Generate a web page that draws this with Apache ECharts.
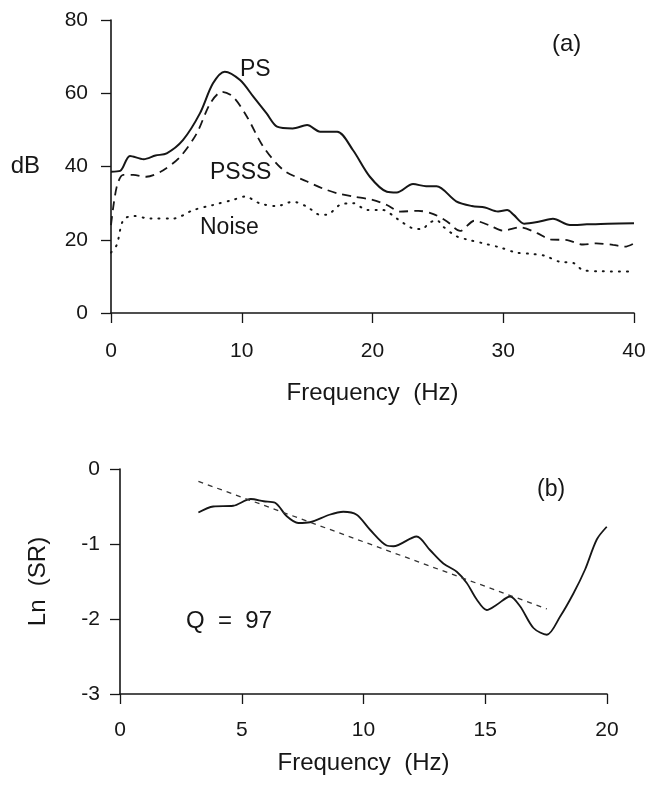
<!DOCTYPE html>
<html>
<head>
<meta charset="utf-8">
<script src="https://cdn.jsdelivr.net/npm/echarts@6/dist/echarts.min.js"></script>
<style>
html,body{margin:0;padding:0;background:#fff;}
#chart{width:651px;height:787px;}
</style>
</head>
<body>
<div id="chart"></div>
<script>
// ---- Panel (a): power spectra (Frequency Hz, dB) ----
var psFreq   = [0, 0.7, 1.45, 2.5, 3.4, 4.26, 5.5, 6.8, 7.8, 8.7, 9.87, 10.9, 11.9, 12.7, 13.9, 15.0, 16.0, 17.3, 18.5, 19.8, 21.1, 21.85, 23.1, 24.1, 24.9, 26.4, 27.6, 28.6, 29.6, 30.3, 30.8, 31.6, 32.7, 33.8, 35.1, 36.4, 38.0, 40];
var psDb     = [38.6, 38.8, 42.9, 42.0, 43.0, 43.6, 47.2, 54.5, 62.7, 65.9, 63.6, 59.0, 54.5, 50.9, 50.4, 51.3, 49.5, 49.5, 44.5, 37.2, 33.1, 32.9, 35.2, 34.6, 34.6, 30.5, 29.2, 28.8, 27.7, 28.1, 26.8, 24.4, 24.9, 25.7, 24.0, 24.2, 24.4, 24.5];

var psssFreq = [0, 0.44, 0.94, 1.7, 2.7, 4.0, 5.3, 6.55, 7.6, 8.5, 9.35, 10.4, 11.65, 13.2, 15.0, 16.2, 17.3, 18.5, 20.0, 21.1, 22.1, 23.5, 24.66, 25.7, 26.7, 27.8, 28.9, 30.0, 31.3, 32.6, 33.6, 34.9, 36.1, 37.1, 38.4, 39.3, 40];
var psssDb   = [24.0, 34.5, 37.7, 37.7, 37.2, 39.0, 42.7, 49.0, 57.3, 60.4, 59.0, 53.6, 45.4, 39.0, 35.9, 34.0, 32.7, 31.8, 30.9, 29.5, 27.7, 27.9, 27.0, 25.0, 22.4, 25.2, 24.0, 22.5, 23.4, 21.8, 20.1, 19.9, 18.7, 19.0, 18.6, 18.1, 19.0];

var noiseFreq = [0, 0.44, 0.94, 1.7, 3.0, 4.76, 6.3, 7.8, 9.35, 10.25, 11.4, 12.7, 13.9, 15.0, 16.0, 16.5, 17.5, 18.5, 19.6, 20.8, 21.85, 23.1, 23.8, 24.3, 24.9, 25.4, 26.4, 27.2, 28.5, 29.75, 31.0, 32.3, 33.2, 34.3, 35.4, 36.1, 37.5, 39.7];
var noiseDb   = [16.5, 18.6, 25.4, 26.5, 25.8, 25.8, 28.1, 29.5, 30.9, 31.8, 29.9, 29.2, 30.4, 29.0, 26.8, 26.8, 29.5, 30.0, 28.1, 28.1, 25.8, 23.1, 22.9, 24.5, 25.4, 23.6, 21.0, 20.1, 19.0, 17.9, 16.5, 16.1, 15.6, 14.0, 13.6, 11.7, 11.4, 11.3];

var topXTicks = [0, 10, 20, 30, 40];
var topYTicks = [0, 20, 40, 60, 80];

// ---- Panel (b): Ln(SR) vs Frequency ----
var srFreq = [3.22, 3.83, 4.65, 5.37, 5.9, 6.37, 6.85, 7.32, 7.8, 8.6, 9.17, 9.72, 10.27, 10.95, 11.23, 12.18, 12.73, 13.28, 13.83, 14.24, 14.65, 15.06, 15.47, 16.02, 16.43, 16.98, 17.53, 18.07, 18.62, 19.1, 19.58, 19.99];
var srLn   = [-0.58, -0.50, -0.49, -0.40, -0.43, -0.45, -0.63, -0.72, -0.71, -0.61, -0.57, -0.61, -0.81, -1.02, -1.03, -0.90, -1.08, -1.26, -1.37, -1.52, -1.74, -1.88, -1.81, -1.70, -1.83, -2.12, -2.21, -1.97, -1.66, -1.34, -0.94, -0.77];

var fitFreq = [3.22, 17.53];
var fitLn   = [-0.165, -1.865];

var botXTicks = [0, 5, 10, 15, 20];
var botYTicks = [-3, -2, -1, 0];

function pairs(xs, ys) { return xs.map(function (x, i) { return [x, ys[i]]; }); }

var FONT = '"Liberation Sans", Arial, Helvetica, sans-serif';
var INK = '#161616';

function axisCommon() {
  return {
    axisLine: { show: true, onZero: false, lineStyle: { color: INK, width: 1.6 } },
    axisTick: { show: true, inside: false, length: 10, lineStyle: { color: INK, width: 1.3 } },
    splitLine: { show: false },
    axisLabel: { color: INK, fontFamily: FONT, fontSize: 21 },
    nameTextStyle: { color: INK, fontFamily: FONT, fontSize: 24 }
  };
}
function mk(extra) {
  var a = axisCommon();
  for (var k in extra) {
    if (typeof extra[k] === 'object' && a[k] && !Array.isArray(extra[k])) {
      a[k] = Object.assign({}, a[k], extra[k]);
    } else a[k] = extra[k];
  }
  return a;
}

var chart = echarts.init(document.getElementById('chart'), null, { renderer: 'canvas' });

function label(text, left, top, size) {
  return { type: 'text', left: left, top: top, style: { text: text, font: size + 'px ' + FONT, fill: INK } };
}

var option = {
  animation: false,
  backgroundColor: '#ffffff',
  grid: [
    { left: 111, top: 20, width: 523, height: 293 },
    { left: 120, top: 469, width: 487, height: 225 }
  ],
  xAxis: [
    mk({ gridIndex: 0, type: 'value', min: topXTicks[0], max: topXTicks[topXTicks.length - 1], interval: 10,
      name: 'Frequency  (Hz)', nameLocation: 'middle', nameGap: 68,
      axisLabel: { margin: 28 } }),
    mk({ gridIndex: 1, type: 'value', min: botXTicks[0], max: botXTicks[botXTicks.length - 1], interval: 5,
      name: 'Frequency  (Hz)', nameLocation: 'middle', nameGap: 57,
      axisLabel: { margin: 26 } })
  ],
  yAxis: [
    mk({ gridIndex: 0, type: 'value', min: topYTicks[0], max: topYTicks[topYTicks.length - 1], interval: 20,
      name: 'dB', nameLocation: 'middle', nameGap: 71, nameRotate: 0,
      axisLabel: { margin: 23 } }),
    mk({ gridIndex: 1, type: 'value', min: botYTicks[0], max: botYTicks[botYTicks.length - 1], interval: 1,
      name: 'Ln  (SR)', nameLocation: 'middle', nameGap: 70, nameRotate: 90,
      axisLabel: { margin: 20 } })
  ],
  graphic: [
    label('PS', 240, 58, 23),
    label('PSSS', 210, 161, 23),
    label('Noise', 200, 216, 23),
    label('(a)', 552, 32, 24),
    label('Q  =  97', 186, 609, 24),
    label('(b)', 537, 478, 23)
  ],
  series: [
    { name: 'PS', type: 'line', xAxisIndex: 0, yAxisIndex: 0, data: pairs(psFreq, psDb),
      smooth: 0.3, showSymbol: false, symbol: 'none',
      lineStyle: { color: INK, width: 2 } },
    { name: 'PSSS', type: 'line', xAxisIndex: 0, yAxisIndex: 0, data: pairs(psssFreq, psssDb),
      smooth: 0.3, showSymbol: false, symbol: 'none',
      lineStyle: { color: INK, width: 1.8, type: [9, 6] } },
    { name: 'Noise', type: 'line', xAxisIndex: 0, yAxisIndex: 0, data: pairs(noiseFreq, noiseDb),
      smooth: 0.3, showSymbol: false, symbol: 'none',
      lineStyle: { color: INK, width: 2, type: [1, 7], cap: 'round' } },
    { name: 'SR', type: 'line', xAxisIndex: 1, yAxisIndex: 1, data: pairs(srFreq, srLn),
      smooth: 0.3, showSymbol: false, symbol: 'none',
      lineStyle: { color: INK, width: 1.8 } },
    { name: 'Fit', type: 'line', xAxisIndex: 1, yAxisIndex: 1, data: pairs(fitFreq, fitLn),
      showSymbol: false, symbol: 'none',
      lineStyle: { color: '#333', width: 1.3, type: [5, 5] } }
  ]
};
chart.setOption(option);
</script>
</body>
</html>
